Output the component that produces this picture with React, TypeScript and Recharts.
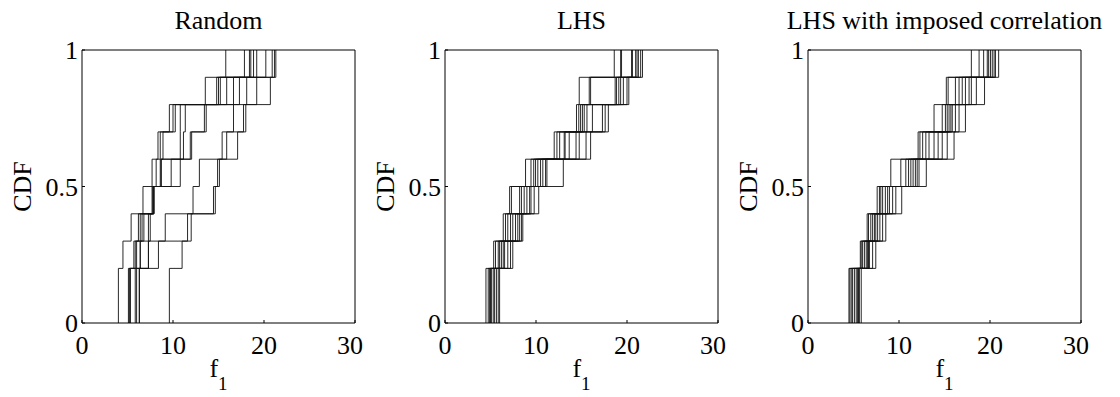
import React from 'react';
import { LineChart, Line, XAxis, YAxis } from 'recharts';

const FONT = '"Liberation Serif", "Times New Roman", serif';

const cdfLevels = [0, 0.2, 0.3, 0.4, 0.5, 0.6, 0.7, 0.8, 0.9, 1];
const xTicks = [0, 10, 20, 30];
const yTicks = [0, 0.5, 1];
const panelTitles = ['Random', 'LHS', 'LHS with imposed correlation'];

// f1 value where each run jumps to the next CDF level (row = level 0.2 ... 1.0, column = run)
const randomJumps = [
  [4.0, 5.1, 5.2, 5.3, 5.3, 5.85, 6.0, 6.3, 6.3, 9.6],
  [4.5, 5.7, 5.85, 6.0, 6.4, 6.4, 7.3, 7.3, 8.4, 11.0],
  [5.4, 6.2, 6.4, 6.6, 6.8, 7.3, 7.5, 9.15, 11.6, 12.0],
  [6.7, 7.7, 7.8, 7.8, 7.9, 7.9, 7.9, 12.2, 14.45, 14.65],
  [7.7, 8.15, 8.6, 8.7, 8.7, 9.8, 10.8, 12.9, 14.9, 15.1],
  [8.35, 8.6, 8.9, 10.8, 11.15, 11.9, 12.05, 15.4, 15.9, 17.1],
  [9.6, 10.0, 10.25, 10.8, 11.35, 13.45, 13.65, 16.65, 17.75, 18.0],
  [13.55, 14.8, 15.0, 15.2, 15.9, 16.65, 17.3, 18.1, 19.2, 20.7],
  [15.8, 17.85, 18.4, 18.55, 18.85, 19.2, 20.2, 20.9, 21.15, 21.3],
];

const lhsJumps = [
  [4.5, 4.75, 4.9, 5.0, 5.1, 5.3, 5.45, 5.65, 5.85, 6.0],
  [5.35, 5.55, 5.85, 6.0, 6.2, 6.4, 6.55, 6.9, 7.2, 7.45],
  [6.4, 6.65, 6.9, 7.2, 7.45, 7.75, 8.0, 8.2, 8.4, 8.55],
  [7.1, 7.3, 8.2, 8.4, 8.7, 9.0, 9.3, 9.45, 9.8, 10.3],
  [8.85, 9.45, 9.75, 9.95, 10.2, 10.5, 10.75, 11.05, 11.2, 13.0],
  [12.0, 12.3, 12.6, 13.1, 13.2, 13.65, 14.4, 14.75, 15.5, 16.0],
  [14.45, 14.7, 14.9, 15.1, 15.3, 15.6, 16.2, 17.3, 17.6, 17.95],
  [14.75, 15.85, 16.0, 18.7, 18.85, 19.1, 19.3, 19.6, 20.0, 20.2],
  [18.6, 19.3, 19.4, 20.5, 20.6, 20.95, 21.1, 21.25, 21.5, 21.7],
];

const corrJumps = [
  [4.5, 4.6, 4.75, 4.9, 5.1, 5.3, 5.45, 5.55, 5.65, 5.85],
  [5.75, 5.85, 6.0, 6.2, 6.4, 6.55, 6.65, 6.75, 7.1, 7.45],
  [6.5, 6.65, 6.9, 7.1, 7.3, 7.45, 7.65, 7.9, 8.2, 8.55],
  [7.6, 7.85, 8.0, 8.2, 8.5, 8.75, 8.95, 9.3, 9.65, 10.3],
  [9.1, 10.2, 10.75, 11.05, 11.3, 11.55, 11.8, 12.0, 12.2, 13.0],
  [12.1, 12.3, 12.6, 12.95, 13.3, 13.85, 14.3, 14.75, 15.3, 16.05],
  [13.85, 14.75, 15.1, 15.3, 15.5, 15.7, 15.85, 16.2, 16.6, 17.3],
  [15.2, 15.4, 16.2, 16.6, 16.95, 17.3, 17.7, 17.95, 18.5, 19.4],
  [17.95, 18.8, 19.3, 19.7, 19.85, 20.05, 20.25, 20.45, 20.6, 20.95],
];

const toCurves = (jumps: number[][]) => {
  const runs = jumps[0].length;
  const curves: { x: number; y: number }[][] = [];
  for (let r = 0; r < runs; r++) {
    const pts = [{ x: jumps[0][r], y: cdfLevels[0] }];
    jumps.forEach((row, i) => pts.push({ x: row[r], y: cdfLevels[i + 1] }));
    curves.push(pts);
  }
  return curves;
};

const tickStyle = { fill: '#000', fontSize: 26, fontFamily: FONT };

const F1Label = (props: any) => {
  const { x, y, width } = props.viewBox;
  return (
    <text x={x + width / 2} y={y + 54} textAnchor="middle" fontFamily={FONT} fontSize={26} fill="#000">
      f<tspan fontSize={19} dy={13}>1</tspan>
    </text>
  );
};

const CdfLabel = (props: any) => {
  const { x, y, height } = props.viewBox;
  const cx = x + 31;
  const cy = y + height / 2;
  return (
    <text x={cx} y={cy} transform={`rotate(-90 ${cx} ${cy})`} textAnchor="middle" fontFamily={FONT} fontSize={26} fill="#000">
      CDF
    </text>
  );
};

const Panel = ({ title, jumps, left }: { title: string; jumps: number[][]; left: number }) => {
  const curves = toCurves(jumps);
  return (
    <div style={{ position: 'absolute', left, top: 0, width: 363, height: 397 }}>
      <div
        style={{
          position: 'absolute',
          left: -18,
          width: 473,
          top: 8,
          lineHeight: '26px',
          textAlign: 'center',
          fontFamily: FONT,
          fontSize: 26,
          whiteSpace: 'nowrap',
        }}
      >
        {title}
      </div>
      <LineChart width={363} height={397} margin={{ top: 45, right: 3, bottom: 0, left: 0 }}>
        <XAxis
          xAxisId="b"
          type="number"
          dataKey="x"
          domain={[0, 30]}
          ticks={xTicks}
          allowDataOverflow
          height={74}
          tickSize={-3}
          tickMargin={15.5}
          stroke="#000"
          tick={tickStyle}
          label={<F1Label />}
        />
        <XAxis
          xAxisId="t"
          orientation="top"
          type="number"
          domain={[0, 30]}
          ticks={xTicks}
          allowDataOverflow
          height={5}
          tick={false}
          tickSize={-3}
          stroke="#000"
        />
        <YAxis
          yAxisId="l"
          type="number"
          domain={[0, 1]}
          ticks={yTicks}
          allowDataOverflow
          width={82}
          tickSize={-3}
          tickMargin={7}
          stroke="#000"
          tick={tickStyle}
          label={<CdfLabel />}
        />
        <YAxis
          yAxisId="r"
          orientation="right"
          type="number"
          domain={[0, 1]}
          ticks={yTicks}
          allowDataOverflow
          width={5}
          tick={false}
          tickSize={-3}
          stroke="#000"
        />
        {curves.map((c, i) => (
          <Line
            key={i}
            xAxisId="b"
            yAxisId="l"
            data={c}
            dataKey="y"
            type="stepAfter"
            stroke="#111"
            strokeWidth={0.9}
            dot={false}
            activeDot={false}
            isAnimationActive={false}
          />
        ))}
      </LineChart>
    </div>
  );
};

export default function App() {
  return (
    <div style={{ position: 'absolute', left: 0, top: 0, width: 1120, height: 397, background: '#fff' }}>
      <Panel title={panelTitles[0]} jumps={randomJumps} left={0} />
      <Panel title={panelTitles[1]} jumps={lhsJumps} left={363} />
      <Panel title={panelTitles[2]} jumps={corrJumps} left={726} />
    </div>
  );
}
